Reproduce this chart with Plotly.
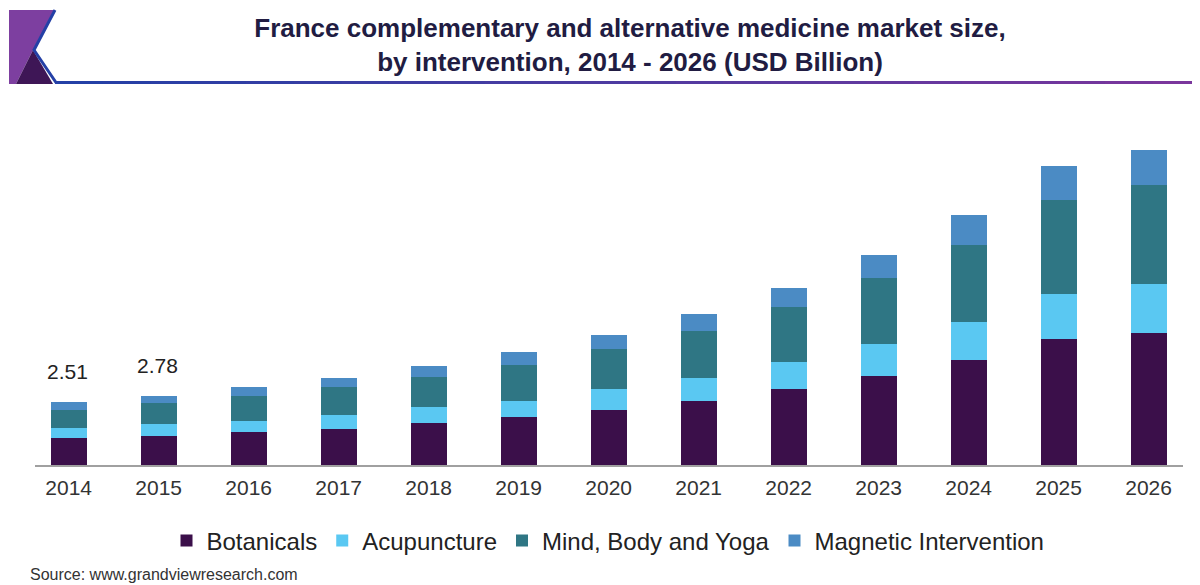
import plotly.graph_objects as go

years = [2014, 2015, 2016, 2017, 2018, 2019, 2020, 2021, 2022, 2023, 2024, 2025, 2026]
botanicals = [1.09, 1.17, 1.31, 1.44, 1.68, 1.93, 2.20, 2.57, 3.03, 3.56, 4.20, 5.04, 5.28]
acupuncture = [0.38, 0.46, 0.45, 0.56, 0.64, 0.64, 0.84, 0.92, 1.08, 1.28, 1.52, 1.80, 1.96]
mind_body_yoga = [0.73, 0.84, 1.00, 1.13, 1.20, 1.43, 1.59, 1.87, 2.22, 2.64, 3.07, 3.77, 3.97]
magnetic = [0.31, 0.31, 0.35, 0.34, 0.44, 0.53, 0.57, 0.68, 0.76, 0.92, 1.20, 1.36, 1.40]
labelled_years = [2014, 2015]

series = [
    ("Botanicals", botanicals, "#3b0f4a"),
    ("Acupuncture", acupuncture, "#5ac8f2"),
    ("Mind, Body and Yoga", mind_body_yoga, "#2f7684"),
    ("Magnetic Intervention", magnetic, "#4b8bc4"),
]

# page has an 8px body margin; figure is sized to fill the rest of the window
OFF = 8
W, H = 1200 - OFF, 585 - OFF
L, R, T, B = 35 - OFF, 17, 130 - OFF, 120
PW, PH = W - L - R, H - T - B
FONT = "Liberation Sans, Arial"


def px(x):  # page pixel x -> paper
    return (x - OFF - L) / PW


def py(y):  # page pixel y -> paper
    return (H - B - (y - OFF)) / PH


fig = go.Figure()
for name, vals, col in series:
    fig.add_trace(go.Bar(x=years, y=vals, name=name, marker=dict(color=col, line=dict(width=0)),
                         width=0.4))

totals = [round(a + b + c + d, 2) for a, b, c, d in zip(botanicals, acupuncture, mind_body_yoga, magnetic)]
for yr in labelled_years:
    i = years.index(yr)
    fig.add_annotation(x=yr, y=totals[i], text=f"{totals[i]:.2f}", showarrow=False,
                       yanchor="bottom", yshift=17, xshift=-1,
                       font=dict(family=FONT, size=21, color="#222"))

# source
fig.add_annotation(xref="paper", yref="paper", x=px(28), y=py(574), xanchor="left", yanchor="middle",
                   text="Source: www.grandviewresearch.com", showarrow=False,
                   font=dict(family=FONT, size=16, color="#333"))

shapes = []
# logo
shapes.append(dict(type="path", xref="paper", yref="paper",
                   path=f"M{px(9)},{py(10)} L{px(54)},{py(10)} L{px(33)},{py(50)} L{px(16)},{py(84)} L{px(9)},{py(84)} Z",
                   fillcolor="#7d3fa0", line=dict(width=0)))
shapes.append(dict(type="path", xref="paper", yref="paper",
                   path=f"M{px(16)},{py(84)} L{px(33)},{py(50)} L{px(53)},{py(84)} Z",
                   fillcolor="#3e1656", line=dict(width=0)))
shapes.append(dict(type="path", xref="paper", yref="paper",
                   path=f"M{px(55)},{py(10)} L{px(34)},{py(50)} L{px(56)},{py(82.5)}",
                   line=dict(color="#2440a6", width=3)))
# header rule: blue to purple
n = 24
x0, x1 = 55, 1200
c0, c1 = (0x24, 0x40, 0xa6), (0x7a, 0x36, 0x9c)
for k in range(n):
    t = k / (n - 1)
    col = "#%02x%02x%02x" % tuple(int(c0[j] + (c1[j] - c0[j]) * t) for j in range(3))
    xa = x0 + (x1 - x0) * k / n
    xb = x0 + (x1 - x0) * (k + 1) / n + 1
    shapes.append(dict(type="line", xref="paper", yref="paper", x0=px(xa), x1=px(xb),
                       y0=py(82.5), y1=py(82.5), line=dict(color=col, width=3)))

fig.update_layout(
    width=W, height=H,
    margin=dict(l=L, r=R, t=T, b=B),
    barmode="stack",
    plot_bgcolor="white", paper_bgcolor="white",
    title=dict(text="France complementary and alternative medicine market size,<br>by intervention, 2014 - 2026 (USD Billion)",
               x=(630 - OFF) / W, xanchor="center", xref="container",
               y=1 - 29 / H, yanchor="top", yref="container",
               font=dict(family=FONT, size=26, color="#211c42", weight="bold")),
    xaxis=dict(range=[2013.626, 2026.382], tickvals=years, ticktext=[str(y) for y in years],
               showgrid=False, zeroline=False, showline=True, linecolor="#a0a0a0", linewidth=2,
               ticks="", ticklabelstandoff=3,
               tickfont=dict(family=FONT, size=21, color="#333")),
    yaxis=dict(range=[0, PH / 25.0], visible=False, showgrid=False, zeroline=False),
    legend=dict(orientation="h", x=px(608), xanchor="center", y=py(541), yanchor="middle",
                font=dict(family=FONT, size=24, color="#222"),
                itemclick=False, traceorder="normal"),
    shapes=shapes,
    showlegend=True,
    bargap=0,
)

fig.write_html("out.html")
